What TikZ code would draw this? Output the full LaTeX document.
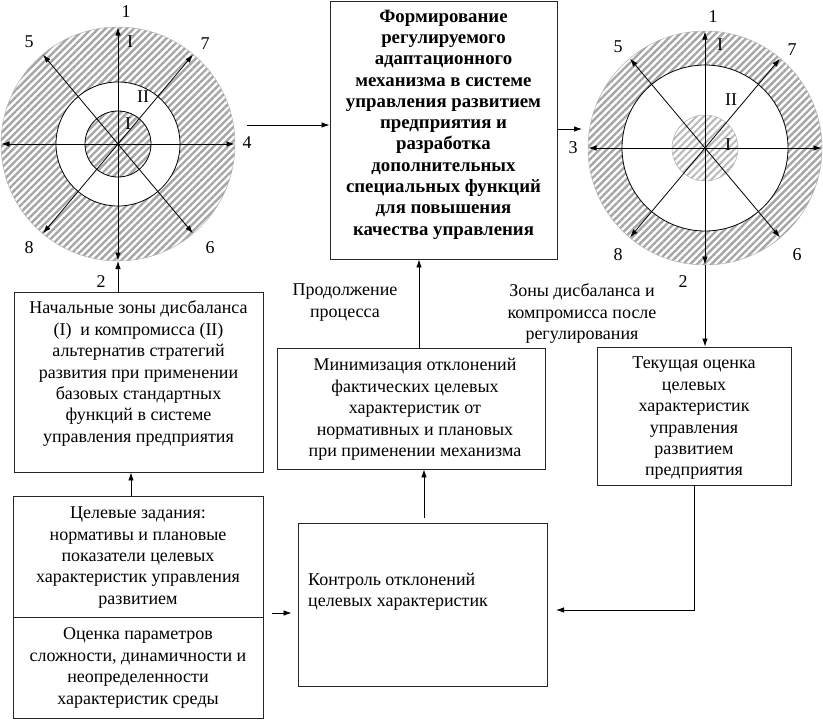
\documentclass[tikz,border=0pt]{standalone}
\usepackage{fontspec}
\setmainfont{Liberation Serif}
\usetikzlibrary{arrows.meta,patterns.meta,calc}
\begin{document}
\begin{tikzpicture}[x=1pt,y=-1pt,
  arr/.style={-{Latex[length=8pt,width=5.5pt]}, line width=0.8pt},
  box/.style={draw=black!85, line width=0.9pt, inner sep=0pt, rectangle},
  txt/.style={align=center, inner sep=0pt, font=\fontsize{18}{21.4}\selectfont},
  lbl/.style={inner sep=0pt, font=\fontsize{18}{20}\selectfont},
  hatch/.style={pattern={Lines[angle=45,distance=5pt,line width=2.4pt]}, pattern color=gray!70},
  hatchlight/.style={pattern={Lines[angle=45,distance=5pt,line width=2pt]}, pattern color=gray!55}]
\useasboundingbox (0,0) rectangle (823,721);

% ---------- left circle ----------
\coordinate (cL) at (118,144);
\fill[hatch] (cL) circle[radius=117pt];
\draw[gray!60, line width=0.5pt] (cL) circle[radius=117pt];
\draw[line width=0.8pt, fill=white] (cL) circle[radius=62pt];
\draw[hatch, line width=0.8pt] (cL) circle[radius=33pt];
\foreach \a in {90,270,0,180,50,130,230,310}
  \draw[arr] (cL) -- ++(\a:116.5pt);
\coordinate (cLb) at ($(cL)+(270:117pt)$);
\node[lbl] (l1) at (126,12) {1};
\node[lbl] (lI1) at (130,42) {I};
\node[lbl] (l5) at (29,42) {5};
\node[lbl] (l7) at (205,44) {7};
\node[lbl] (lII) at (143,97) {II};
\node[lbl] (lI2) at (128,124) {I};
\node[lbl] (l4) at (247,143) {4};
\node[lbl] (l8) at (29,248) {8};
\node[lbl] (l6) at (210,248) {6};
\node[lbl] (l2) at (101,282) {2};

% ---------- right circle ----------
\coordinate (cR) at (705,148);
\fill[hatch] (cR) circle[radius=117pt];
\draw[gray!60, line width=0.5pt] (cR) circle[radius=117pt];
\draw[line width=0.8pt, fill=white] (cR) circle[radius=83pt];
\draw[hatchlight, draw=gray!60, line width=0.5pt] (cR) circle[radius=33pt];
\foreach \a in {90,270,0,180,50,130,230,310}
  \draw[arr] (cR) -- ++(\a:116.5pt);
\coordinate (cRb) at ($(cR)+(270:117pt)$);
\node[lbl] (r1) at (713,17) {1};
\node[lbl] (rI1) at (720,45) {I};
\node[lbl] (r5) at (618,47) {5};
\node[lbl] (r7) at (792,50) {7};
\node[lbl] (rII) at (731,100) {II};
\node[lbl] (rI2) at (728,145) {I};
\node[lbl] (r3) at (573,148) {3};
\node[lbl] (r8) at (618,255) {8};
\node[lbl] (r6) at (797,255) {6};
\node[lbl] (r2) at (683,282) {2};

% ---------- boxes ----------
\node[box, minimum width=227pt, minimum height=258pt] (central) at (443.5,130) {};
\node[txt, font=\fontsize{18.8}{21.3}\selectfont\bfseries] (centralT) at (443.5,124.5)
  {Формирование\\регулируемого\\адаптационного\\механизма в системе\\управления развитием\\предприятия и\\разработка\\дополнительных\\специальных функций\\для повышения\\качества управления};

\node[box, minimum width=249pt, minimum height=180pt] (nach) at (138.5,382) {};
\node[txt] (nachT) at (138.5,373.5)
  {Начальные зоны дисбаланса\\(I)\enspace и компромисса (II)\\альтернатив стратегий\\развития при применении\\базовых стандартных\\функций в системе\\управления предприятия};

\node[box, minimum width=250pt, minimum height=222pt] (cel) at (138,607) {};
\draw[black!85, line width=0.9pt] (cel.west |- 0,617) -- (cel.east |- 0,617);
\node[txt] (celT1) at (138,557.5)
  {Целевые задания:\\нормативы и плановые\\показатели целевых\\характеристик управления\\развитием};
\node[txt] (celT2) at (138,668)
  {Оценка параметров\\сложности, динамичности и\\неопределенности\\характеристик среды};

\node[box, minimum width=249pt, minimum height=163pt] (kontrol) at (422.5,604.5) {};
\node[txt, align=left, anchor=west] (kontrolT) at (308,591.5)
  {Контроль отклонений\\целевых характеристик};

\node[box, minimum width=268pt, minimum height=121pt] (minim) at (411,408.5) {};
\node[txt] (minimT) at (415,409.5)
  {Минимизация отклонений\\фактических целевых\\характеристик от\\нормативных и плановых\\при применении механизма};

\node[box, minimum width=194pt, minimum height=138pt] (tek) at (694,416) {};
\node[txt] (tekT) at (694,418.5)
  {Текущая оценка\\целевых\\характеристик\\управления\\развитием\\предприятия};

\node[txt] (prod) at (345,302.5) {Продолжение\\процесса};
\node[txt] (zony) at (582,313.5) {Зоны дисбаланса и\\компромисса после\\регулирования};

% ---------- connectors ----------
\coordinate (a4) at (247,125);
\draw[arr] (a4) -- (central.west |- a4);
\coordinate (a3) at (582,129);
\draw[arr] (central.east |- a3) -- (a3);
\draw[arr] (nach.north -| cLb) -- (cLb);
\draw[arr] (cRb) -- (tek.north -| cRb);
\coordinate (xc) at (131,0);
\draw[arr] (cel.north -| xc) -- (nach.south -| xc);
\coordinate (xm) at (419,0);
\draw[arr] (minim.north -| xm) -- (central.south -| xm);
\coordinate (xk) at (424,0);
\draw[arr, shorten <=5pt] (kontrol.north -| xk) -- (minim.south -| xk);
\coordinate (kin) at (556,610);
\draw[arr] (tek.south) |- (kin);
\coordinate (yc) at (0,613);
\draw[arr, shorten <=9pt, shorten >=6pt] (cel.east |- yc) -- (kontrol.west |- yc);
\end{tikzpicture}
\end{document}
